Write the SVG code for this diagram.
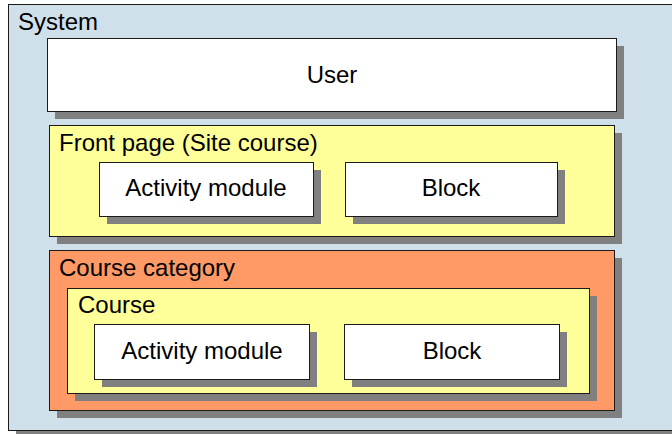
<svg xmlns="http://www.w3.org/2000/svg" width="672" height="434" viewBox="0 0 672 434">
<style>
.box{stroke:#1a1a1a;stroke-width:1}
.sh{fill:#808080}
.t{font-family:"Liberation Sans",Arial,sans-serif;font-size:24px;fill:#000}
.c{text-anchor:middle}
</style>
<rect width="672" height="434" fill="#ffffff"/>
<g id="system">
<rect class="sh" x="16" y="12" width="670" height="422"/>
<rect class="box" x="8.5" y="4.5" width="670" height="426" fill="#cfe0eb"/>
<text class="t" x="18" y="30">System</text>
</g>
<g id="user">
<rect class="sh" x="55" y="46" width="569" height="73"/>
<rect class="box" x="47.5" y="38.5" width="569" height="73" fill="#ffffff"/>
<text class="t c" x="332" y="83">User</text>
</g>
<g id="frontpage">
<rect class="sh" x="57" y="133" width="565" height="111"/>
<rect class="box" x="49.5" y="125.5" width="565" height="111" fill="#ffff99"/>
<text class="t" x="59" y="151">Front page (Site course)</text>
</g>
<g id="fp-activity">
<rect class="sh" x="107" y="170" width="214" height="54"/>
<rect class="box" x="99.5" y="162.5" width="214" height="54" fill="#ffffff"/>
<text class="t c" x="206" y="196">Activity module</text>
</g>
<g id="fp-block">
<rect class="sh" x="353" y="170" width="212" height="54"/>
<rect class="box" x="345.5" y="162.5" width="212" height="54" fill="#ffffff"/>
<text class="t c" x="451" y="196">Block</text>
</g>
<g id="category">
<rect class="sh" x="57" y="258" width="565" height="160"/>
<rect class="box" x="49.5" y="250.5" width="565" height="160" fill="#ff9966"/>
<text class="t" x="59" y="276">Course category</text>
</g>
<g id="course">
<rect class="sh" x="75" y="296" width="522" height="105"/>
<rect class="box" x="67.5" y="288.5" width="522" height="105" fill="#ffff99"/>
<text class="t" x="78" y="313">Course</text>
</g>
<g id="c-activity">
<rect class="sh" x="102" y="332" width="215" height="55"/>
<rect class="box" x="94.5" y="324.5" width="215" height="55" fill="#ffffff"/>
<text class="t c" x="202" y="359">Activity module</text>
</g>
<g id="c-block">
<rect class="sh" x="352" y="332" width="215" height="55"/>
<rect class="box" x="344.5" y="324.5" width="215" height="55" fill="#ffffff"/>
<text class="t c" x="452" y="359">Block</text>
</g>
<g id="connectors"></g>
</svg>
